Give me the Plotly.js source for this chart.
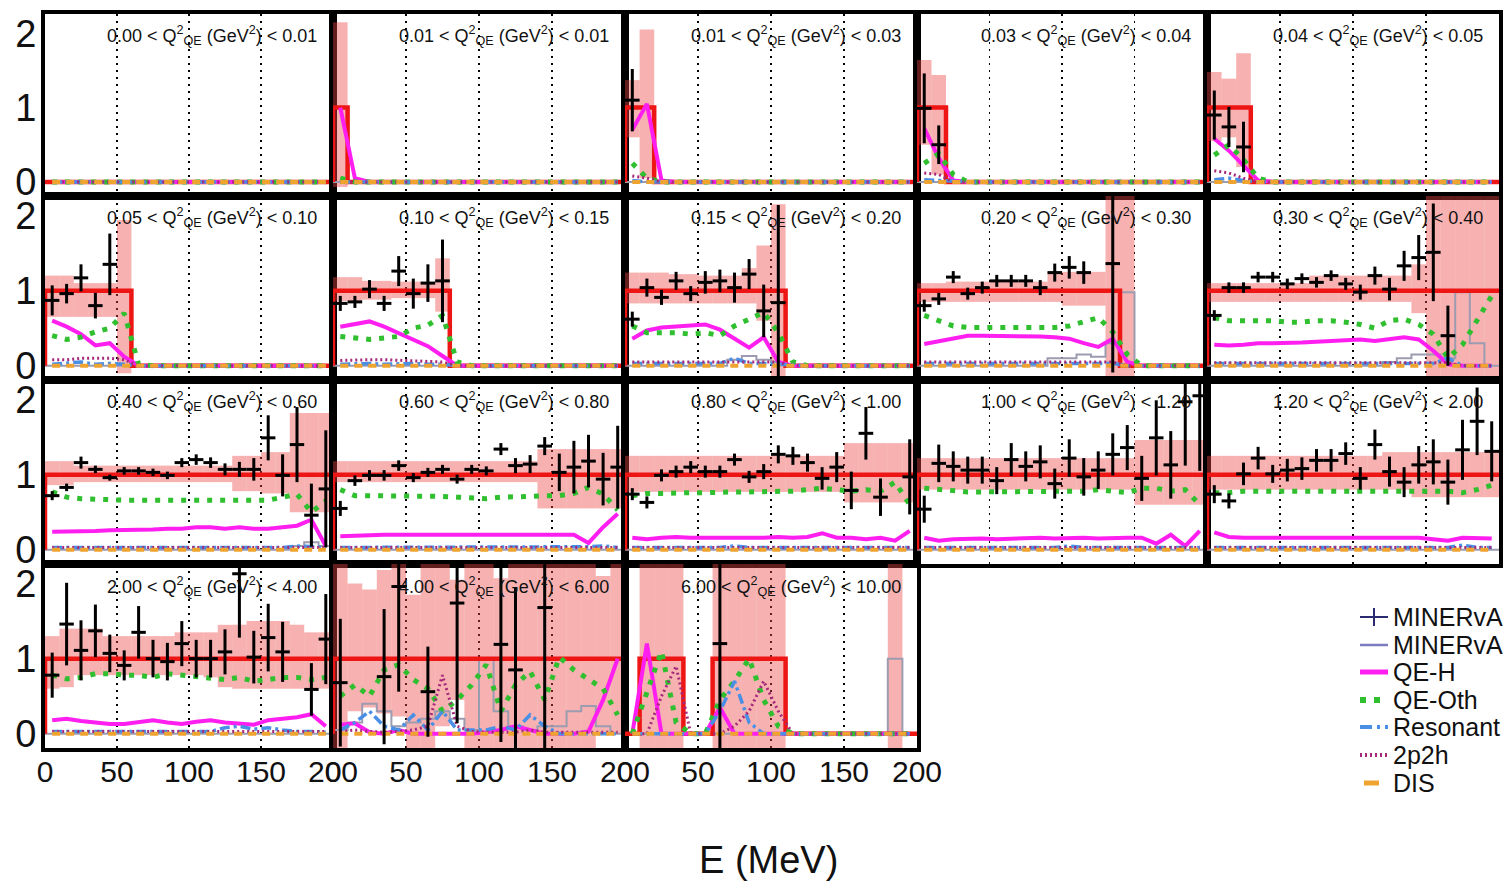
<!DOCTYPE html>
<html><head><meta charset="utf-8">
<script src="https://cdn.plot.ly/plotly-3.0.1.min.js"></script>
<style>html,body{margin:0;padding:0;background:#fff;}#chart{width:1511px;height:883px;}</style>
</head><body><div id="chart"></div>
<script>
const N = null;
const binEdges = [0,10,20,30,40,50,60,70,80,90,100,110,120,130,140,150,160,170,180,190,200];
const binCenters = [5,15,25,35,45,55,65,75,85,95,105,115,125,135,145,155,165,175,185,195];
const qLow  = ["0.00","0.01","0.01","0.03","0.04","0.05","0.10","0.15","0.20","0.30","0.40","0.60","0.80","1.00","1.20","2.00","4.00","6.00"];
const qHigh = ["0.01","0.01","0.03","0.04","0.05","0.10","0.15","0.20","0.30","0.40","0.60","0.80","1.00","1.20","2.00","4.00","6.00","10.00"];
const legendNames = ["MINERvA","MINERvA","QE-H","QE-Oth","Resonant","2p2h","DIS"];
const xTickVals = [0,50,100,150,200];
const yTickVals = [0,1,2];

// total MC ratio (red step)
const ratioMC = [
 [0,0,0,0,0, 0,0,0,0,0, 0,0,0,0,0, 0,0,0,0,0],
 [1,0,0,0,0, 0,0,0,0,0, 0,0,0,0,0, 0,0,0,0,0],
 [1,1,0,0,0, 0,0,0,0,0, 0,0,0,0,0, 0,0,0,0,0],
 [1,1,0,0,0, 0,0,0,0,0, 0,0,0,0,0, 0,0,0,0,0],
 [1,1,1,0,0, 0,0,0,0,0, 0,0,0,0,0, 0,0,0,0,0],
 [1,1,1,1,1, 1,0,0,0,0, 0,0,0,0,0, 0,0,0,0,0],
 [1,1,1,1,1, 1,1,1,0,0, 0,0,0,0,0, 0,0,0,0,0],
 [1,1,1,1,1, 1,1,1,1,1, 1,0,0,0,0, 0,0,0,0,0],
 [1,1,1,1,1, 1,1,1,1,1, 1,1,1,1,0, 0,0,0,0,0],
 [1,1,1,1,1, 1,1,1,1,1, 1,1,1,1,1, 1,1,1,1,1],
 [1,1,1,1,1, 1,1,1,1,1, 1,1,1,1,1, 1,1,1,1,1],
 [1,1,1,1,1, 1,1,1,1,1, 1,1,1,1,1, 1,1,1,1,1],
 [1,1,1,1,1, 1,1,1,1,1, 1,1,1,1,1, 1,1,1,1,1],
 [1,1,1,1,1, 1,1,1,1,1, 1,1,1,1,1, 1,1,1,1,1],
 [1,1,1,1,1, 1,1,1,1,1, 1,1,1,1,1, 1,1,1,1,1],
 [1,1,1,1,1, 1,1,1,1,1, 1,1,1,1,1, 1,1,1,1,1],
 [1,1,1,1,1, 1,1,1,1,1, 1,1,1,1,1, 1,1,1,1,1],
 [0,1,1,1,0, 0,1,1,1,1, 1,0,0,0,0, 0,0,0,0,0]
];

// uncertainty band (pink)
const bandLow = [
 [N,N,N,N,N, N,N,N,N,N, N,N,N,N,N, N,N,N,N,N],
 [-0.07,N,N,N,N, N,N,N,N,N, N,N,N,N,N, N,N,N,N,N],
 [0.6,0.05,N,N,N, N,N,N,N,N, N,N,N,N,N, N,N,N,N,N],
 [0.5,0.1,N,N,N, N,N,N,N,N, N,N,N,N,N, N,N,N,N,N],
 [0.55,0.6,0.2,N,N, N,N,N,N,N, N,N,N,N,N, N,N,N,N,N],
 [0.65,0.65,0.65,0.65,0.65, -0.1,N,N,N,N, N,N,N,N,N, N,N,N,N,N],
 [0.86,0.86,0.88,0.88,0.9, 0.9,0.9,0.72,N,N, N,N,N,N,N, N,N,N,N,N],
 [0.83,0.83,0.83,0.83,0.83, 0.83,0.83,0.83,0.83,0.6, -0.2,N,N,N,N, N,N,N,N,N],
 [0.85,0.85,0.85,0.85,0.85, 0.85,0.85,0.85,0.85,0.85, 0.8,0.8,0.8,-0.2,-0.2, N,N,N,N,N],
 [0.85,0.85,0.85,0.85,0.85, 0.85,0.85,0.85,0.85,0.85, 0.85,0.85,0.85,0.85,0.7, -0.2,-0.2,-0.2,-0.2,-0.2],
 [0.86,0.86,0.9,0.9,0.9, 0.9,0.9,0.9,0.9,0.9, 0.9,0.9,0.9,0.78,0.78, 0.75,0.75,0.5,0.5,0.5],
 [0.9,0.9,0.9,0.9,0.9, 0.9,0.9,0.9,0.9,0.9, 0.9,0.9,0.9,0.9,0.55, 0.55,0.55,0.55,0.55,0.55],
 [0.77,0.77,0.77,0.77,0.77, 0.77,0.77,0.77,0.77,0.77, 0.77,0.77,0.77,0.77,0.77, 0.63,0.63,0.63,0.63,0.63],
 [0.8,0.8,0.8,0.8,0.8, 0.8,0.8,0.8,0.8,0.8, 0.8,0.8,0.8,0.8,0.8, 0.6,0.6,0.6,0.6,0.6],
 [0.8,0.8,0.8,0.8,0.8, 0.8,0.8,0.8,0.8,0.8, 0.8,0.8,0.8,0.8,0.7, 0.7,0.7,0.7,0.7,0.7],
 [0.6,0.62,0.78,0.78,0.78, 0.78,0.78,0.78,0.78,0.78, 0.78,0.75,0.62,0.6,0.6, 0.6,0.6,0.6,0.6,0.6],
 [-0.2,0.3,0.35,0.27,0.23, -0.2,-0.2,0.1,0.45,-0.2, -0.2,-0.2,-0.2,-0.2,-0.2, -0.2,-0.2,-0.2,0,0],
 [N,-0.2,-0.2,-0.2,N, N,-0.2,-0.2,-0.2,-0.2, -0.2,N,N,N,N, N,N,N,-0.2,N]
];
const bandHigh = [
 [N,N,N,N,N, N,N,N,N,N, N,N,N,N,N, N,N,N,N,N],
 [2.15,N,N,N,N, N,N,N,N,N, N,N,N,N,N, N,N,N,N,N],
 [1.37,2.05,N,N,N, N,N,N,N,N, N,N,N,N,N, N,N,N,N,N],
 [1.64,1.44,N,N,N, N,N,N,N,N, N,N,N,N,N, N,N,N,N,N],
 [1.48,1.39,1.73,N,N, N,N,N,N,N, N,N,N,N,N, N,N,N,N,N],
 [1.2,1.2,1.1,1.1,1.1, 1.94,N,N,N,N, N,N,N,N,N, N,N,N,N,N],
 [1.18,1.18,1.13,1.13,1.12, 1.12,1.12,1.43,N,N, N,N,N,N,N, N,N,N,N,N],
 [1.24,1.24,1.24,1.22,1.22, 1.2,1.2,1.2,1.3,1.6, 2.15,N,N,N,N, N,N,N,N,N],
 [1.1,1.1,1.12,1.12,1.12, 1.12,1.12,1.12,1.12,1.25, 1.25,1.25,1.25,2.3,2.3, N,N,N,N,N],
 [1.1,1.1,1.1,1.1,1.1, 1.1,1.1,1.2,1.2,1.2, 1.2,1.2,1.2,1.2,1.35, 2.3,2.3,2.3,2.3,2.3],
 [1.18,1.18,1.12,1.12,1.12, 1.12,1.12,1.12,1.12,1.12, 1.12,1.12,1.12,1.25,1.25, 1.3,1.3,1.82,1.82,1.82],
 [1.18,1.18,1.18,1.18,1.18, 1.18,1.18,1.18,1.18,1.18, 1.18,1.18,1.18,1.18,1.34, 1.34,1.34,1.34,1.34,1.34],
 [1.25,1.25,1.25,1.25,1.25, 1.25,1.25,1.25,1.25,1.25, 1.25,1.25,1.25,1.25,1.25, 1.42,1.42,1.42,1.42,1.42],
 [1.22,1.22,1.22,1.22,1.22, 1.22,1.22,1.22,1.22,1.22, 1.22,1.22,1.22,1.22,1.22, 1.46,1.46,1.46,1.46,1.46],
 [1.25,1.25,1.25,1.25,1.25, 1.25,1.25,1.25,1.25,1.25, 1.25,1.25,1.3,1.3,1.3, 1.3,1.3,1.3,1.3,1.3],
 [1.3,1.4,1.4,1.4,1.3, 1.3,1.3,1.3,1.3,1.35, 1.35,1.35,1.45,1.45,1.5, 1.5,1.5,1.45,1.35,1.35],
 [2.3,2.0,1.92,2.18,2.3, 1.85,2.3,2.3,2.05,2.3, 2.3,2.07,2.3,2.3,2.3, 2.3,2.3,2.3,2.1,2.3],
 [N,2.3,2.3,2.3,N, N,2.3,2.3,2.3,2.3, 2.3,N,N,N,N, N,N,N,2.3,N]
];

// MINERvA data points (ratio) and errors
const dataVal = [
 [N,N,N,N,N, N,N,N,N,N, N,N,N,N,N, N,N,N,N,N],
 [N,N,N,N,N, N,N,N,N,N, N,N,N,N,N, N,N,N,N,N],
 [1.1,N,N,N,N, N,N,N,N,N, N,N,N,N,N, N,N,N,N,N],
 [0.99,0.5,N,N,N, N,N,N,N,N, N,N,N,N,N, N,N,N,N,N],
 [0.9,0.74,0.47,N,N, N,N,N,N,N, N,N,N,N,N, N,N,N,N,N],
 [0.87,0.96,1.17,0.8,1.35, N,N,N,N,N, N,N,N,N,N, N,N,N,N,N],
 [0.83,0.85,1.02,0.83,1.26, 0.96,1.1,1.13,N,N, N,N,N,N,N, N,N,N,N,N],
 [0.62,1.04,0.91,1.13,0.96, 1.11,1.13,1.04,1.22,0.73, 0.84,N,N,N,N, N,N,N,N,N],
 [0.8,0.89,1.18,0.96,1.04, 1.13,1.13,1.13,1.04,1.24, 1.31,1.24,N,1.36,N, N,N,N,N,N],
 [0.67,1.04,1.04,1.18,1.18, 1.09,1.16,1.11,1.2,1.09, 0.98,1.2,1.02,1.33,1.44, 1.51,0.4,N,N,N],
 [0.72,0.83,1.16,1.07,0.96, 1.05,1.05,1.03,0.99,1.16, 1.2,1.16,1.07,1.07,1.07, 1.49,0.99,1.4,0.46,0.81],
 [0.55,0.92,0.99,0.99,1.12, 0.96,1.03,1.07,0.94,1.07, 1.05,1.34,1.12,1.14,1.38, 1.03,1.1,1.18,0.94,1.1],
 [0.74,0.63,0.99,1.04,1.1, 1.04,1.04,1.2,0.97,1.04, 1.27,1.25,1.16,0.95,1.1, 0.79,1.55,0.7,N,0.97],
 [0.54,1.15,1.11,1.06,1.06, 0.92,1.2,1.11,1.17,0.88, 1.22,0.97,1.06,1.27,1.36, 0.95,1.49,1.13,1.97,2.05],
 [0.74,0.65,1.01,1.22,1.01, 1.06,1.08,1.19,1.19,1.28, 0.95,1.4,1.04,0.9,1.13, 1.17,0.9,1.33,1.71,1.31],
 [0.78,1.46,1.11,1.37,1.07, 0.91,1.35,1.0,0.96,1.2, 1.0,1.0,1.09,2.13,1.02, 1.28,1.09,N,0.59,1.26],
 [0.68,N,N,0.76,1.96, N,0.56,N,1.74,N, N,1.19,0.85,N,1.68, N,N,N,N,N],
 [N,N,N,N,N, N,1.2,N,N,N, N,N,N,N,N, N,N,N,N,N]
];
const dataErr = [
 [N,N,N,N,N, N,N,N,N,N, N,N,N,N,N, N,N,N,N,N],
 [N,N,N,N,N, N,N,N,N,N, N,N,N,N,N, N,N,N,N,N],
 [0.42,N,N,N,N, N,N,N,N,N, N,N,N,N,N, N,N,N,N,N],
 [0.47,0.26,N,N,N, N,N,N,N,N, N,N,N,N,N, N,N,N,N,N],
 [0.33,0.27,0.34,N,N, N,N,N,N,N, N,N,N,N,N, N,N,N,N,N],
 [0.2,0.13,0.18,0.17,0.41, N,N,N,N,N, N,N,N,N,N, N,N,N,N,N],
 [0.1,0.08,0.12,0.1,0.2, 0.2,0.25,0.55,N,N, N,N,N,N,N, N,N,N,N,N],
 [0.1,0.12,0.1,0.12,0.1, 0.15,0.15,0.2,0.2,0.35, 1.3,N,N,N,N, N,N,N,N,N],
 [0.08,0.08,0.08,0.08,0.08, 0.08,0.08,0.08,0.1,0.12, 0.15,0.15,N,1.45,N, N,N,N,N,N],
 [0.07,0.07,0.07,0.07,0.07, 0.07,0.07,0.07,0.07,0.08, 0.1,0.12,0.15,0.2,0.3, 0.65,0.4,N,N,N],
 [0.06,0.05,0.08,0.05,0.04, 0.05,0.05,0.05,0.05,0.06, 0.07,0.07,0.08,0.1,0.15, 0.3,0.28,0.5,0.42,0.78],
 [0.1,0.07,0.07,0.07,0.07, 0.06,0.06,0.06,0.06,0.06, 0.06,0.08,0.1,0.12,0.12, 0.25,0.35,0.35,0.35,0.55],
 [0.08,0.08,0.08,0.08,0.08, 0.08,0.08,0.08,0.08,0.1, 0.12,0.12,0.12,0.15,0.2, 0.25,0.35,0.25,N,0.5],
 [0.18,0.25,0.2,0.18,0.18, 0.18,0.22,0.2,0.22,0.2, 0.25,0.25,0.25,0.28,0.3, 0.3,0.5,0.45,0.85,1.0],
 [0.12,0.1,0.15,0.15,0.12, 0.15,0.15,0.15,0.15,0.15, 0.15,0.2,0.2,0.2,0.25, 0.3,0.3,0.4,0.45,0.4],
 [0.3,0.55,0.4,0.35,0.25, 0.2,0.35,0.25,0.25,0.3, 0.25,0.25,0.3,0.85,0.35, 0.45,0.4,N,0.35,0.6],
 [0.85,N,N,0.9,1.4, N,0.6,N,1.6,N, N,1.3,1.1,N,1.9, N,N,N,N,N],
 [N,N,N,N,N, N,2.3,N,N,N, N,N,N,N,N, N,N,N,N,N]
];

// MC components (fraction of total MC)
const qeH = [
 [0,0,0,0,0, 0,0,0,0,0, 0,0,0,0,0, 0,0,0,0,0],
 [1.0,0.05,0,0,0, 0,0,0,0,0, 0,0,0,0,0, 0,0,0,0,0],
 [0.7,1.05,0.02,0,0, 0,0,0,0,0, 0,0,0,0,0, 0,0,0,0,0],
 [0.72,0.32,0.02,0,0, 0,0,0,0,0, 0,0,0,0,0, 0,0,0,0,0],
 [0.58,0.42,0.22,0.02,0, 0,0,0,0,0, 0,0,0,0,0, 0,0,0,0,0],
 [0.6,0.52,0.42,0.27,0.3, 0.12,0,0,0,0, 0,0,0,0,0, 0,0,0,0,0],
 [0.52,0.55,0.59,0.52,0.43, 0.35,0.26,0.13,0,0, 0,0,0,0,0, 0,0,0,0,0],
 [0.36,0.47,0.51,0.52,0.53, 0.55,0.48,0.36,0.24,0.38, 0.05,0,0,0,0, 0,0,0,0,0],
 [0.29,0.33,0.37,0.4,0.4, 0.4,0.4,0.4,0.39,0.38, 0.36,0.3,0.25,0.36,0.05, 0,0,0,0,0],
 [0.28,0.27,0.28,0.3,0.3, 0.3,0.31,0.32,0.33,0.35, 0.35,0.33,0.36,0.38,0.35, 0.2,0.02,0,0,0],
 [0.24,0.24,0.25,0.25,0.26, 0.26,0.27,0.27,0.28,0.28, 0.3,0.3,0.28,0.3,0.28, 0.28,0.3,0.32,0.4,0.05],
 [0.18,0.19,0.2,0.2,0.2, 0.2,0.2,0.2,0.2,0.2, 0.21,0.21,0.2,0.21,0.2, 0.2,0.2,0.09,0.3,0.48],
 [0.16,0.14,0.16,0.17,0.16, 0.16,0.16,0.15,0.16,0.16, 0.17,0.16,0.17,0.22,0.16, 0.16,0.14,0.16,0.12,0.25],
 [0.16,0.12,0.14,0.15,0.15, 0.14,0.15,0.15,0.16,0.15, 0.16,0.16,0.15,0.16,0.16, 0.16,0.08,0.2,0.05,0.25],
 [0.23,0.17,0.16,0.16,0.16, 0.16,0.16,0.16,0.16,0.16, 0.16,0.16,0.16,0.16,0.16, 0.14,0.12,0.16,0.15,0.15],
 [0.18,0.2,0.17,0.15,0.13, 0.13,0.15,0.18,0.15,0.13, 0.16,0.18,0.15,0.13,0.12, 0.18,0.2,0.22,0.26,0.1],
 [0.12,0.14,0.02,0,0.05, 0,0,0,0,0, 0.02,0.05,0.1,0.05,0, 0,0,0.03,0.45,1.0],
 [0,1.2,0,0,0, 0,0.35,0,0,0, 0,0,0,0,0, 0,0,0,0,0]
];
const qeOth = [
 [0,0,0,0,0, 0,0,0,0,0, 0,0,0,0,0, 0,0,0,0,0],
 [0.05,0,0,0,0, 0,0,0,0,0, 0,0,0,0,0, 0,0,0,0,0],
 [0.25,0.05,0,0,0, 0,0,0,0,0, 0,0,0,0,0, 0,0,0,0,0],
 [0.25,0.38,0.1,0,0, 0,0,0,0,0, 0,0,0,0,0, 0,0,0,0,0],
 [0.36,0.5,0.3,0.05,0, 0,0,0,0,0, 0,0,0,0,0, 0,0,0,0,0],
 [0.4,0.35,0.38,0.45,0.5, 0.7,0.02,0,0,0, 0,0,0,0,0, 0,0,0,0,0],
 [0.39,0.37,0.35,0.37,0.39, 0.5,0.54,0.67,0.05,0, 0,0,0,0,0, 0,0,0,0,0],
 [0.53,0.44,0.44,0.44,0.42, 0.44,0.4,0.53,0.62,0.71, 0.44,0.05,0,0,0, 0,0,0,0,0],
 [0.67,0.6,0.53,0.51,0.51, 0.51,0.51,0.51,0.51,0.51, 0.53,0.58,0.64,0.45,0.15, 0,0,0,0,0],
 [0.64,0.6,0.6,0.6,0.6, 0.58,0.58,0.6,0.6,0.58, 0.55,0.5,0.6,0.62,0.55, 0.42,0.1,0.28,0.62,0.93],
 [0.77,0.7,0.68,0.67,0.66, 0.66,0.66,0.66,0.66,0.66, 0.66,0.66,0.65,0.65,0.66, 0.66,0.7,0.74,0.5,0.65],
 [0.8,0.72,0.72,0.72,0.72, 0.71,0.71,0.71,0.7,0.69, 0.68,0.7,0.7,0.71,0.72, 0.72,0.75,0.83,0.74,0.53],
 [0.72,0.75,0.75,0.76,0.76, 0.76,0.77,0.77,0.77,0.77, 0.78,0.78,0.8,0.82,0.8, 0.78,0.8,0.78,0.9,0.6],
 [0.82,0.8,0.78,0.77,0.77, 0.77,0.77,0.77,0.77,0.78, 0.78,0.78,0.8,0.78,0.76, 0.82,0.82,0.78,0.8,0.6],
 [0.76,0.76,0.78,0.78,0.78, 0.78,0.78,0.78,0.78,0.78, 0.78,0.77,0.78,0.78,0.77, 0.77,0.78,0.76,0.8,0.86],
 [0.78,0.73,0.75,0.8,0.8, 0.78,0.78,0.75,0.8,0.78, 0.75,0.73,0.72,0.75,0.7, 0.72,0.75,0.75,0.72,0.75],
 [0.5,0.65,0.5,0.85,0.92, 0.72,0.6,0.3,0.45,0.65, 0.92,0.3,0.65,0.83,0.45, 1.02,0.85,0.72,0.6,0.25],
 [0,0.55,1.1,0.15,0, 0,0.45,0.7,1.0,0.45, 0.1,0,0,0,0, 0,0,0,0,0]
];
const resonant = [
 [0,0,0,0,0, 0,0,0,0,0, 0,0,0,0,0, 0,0,0,0,0],
 [0,0,0,0,0, 0,0,0,0,0, 0,0,0,0,0, 0,0,0,0,0],
 [0.02,0,0,0,0, 0,0,0,0,0, 0,0,0,0,0, 0,0,0,0,0],
 [0.03,0.02,0,0,0, 0,0,0,0,0, 0,0,0,0,0, 0,0,0,0,0],
 [0.03,0.05,0.02,0,0, 0,0,0,0,0, 0,0,0,0,0, 0,0,0,0,0],
 [0.02,0.03,0.05,0.02,0.03, 0.02,0,0,0,0, 0,0,0,0,0, 0,0,0,0,0],
 [0.02,0.03,0.03,0.02,0.03, 0.03,0.02,0.02,0,0, 0,0,0,0,0, 0,0,0,0,0],
 [0.03,0.03,0.03,0.03,0.03, 0.03,0.03,0.1,0.03,0.03, 0.02,0,0,0,0, 0,0,0,0,0],
 [0.03,0.03,0.03,0.03,0.03, 0.03,0.03,0.03,0.03,0.03, 0.03,0.03,0.03,0.03,0, 0,0,0,0,0],
 [0.03,0.03,0.03,0.03,0.03, 0.03,0.03,0.03,0.03,0.03, 0.03,0.03,0.03,0.03,0.03, 0.03,0.1,0,0,0],
 [0.03,0.03,0.03,0.03,0.03, 0.04,0.03,0.03,0.03,0.03, 0.03,0.03,0.03,0.03,0.03, 0.03,0.03,0.05,0.04,0.03],
 [0.03,0.03,0.03,0.03,0.03, 0.03,0.03,0.03,0.03,0.03, 0.03,0.03,0.03,0.03,0.03, 0.03,0.03,0.04,0.05,0.03],
 [0.03,0.03,0.03,0.03,0.03, 0.03,0.03,0.05,0.03,0.03, 0.03,0.03,0.03,0.03,0.03, 0.03,0.03,0.04,0.03,0.03],
 [0.03,0.03,0.03,0.03,0.03, 0.03,0.03,0.03,0.03,0.03, 0.05,0.03,0.03,0.03,0.03, 0.03,0.03,0.03,0.03,0.03],
 [0.03,0.03,0.03,0.03,0.03, 0.03,0.03,0.03,0.03,0.03, 0.03,0.03,0.03,0.03,0.03, 0.03,0.03,0.06,0.03,0.03],
 [0.03,0.03,0.03,0.03,0.03, 0.03,0.03,0.03,0.03,0.03, 0.03,0.03,0.08,0.1,0.06, 0.08,0.05,0.03,0.03,0.02],
 [0.05,0.15,0.3,0.1,0.05, 0.25,0.05,0.3,0.05,0.05, 0.05,0.1,0.05,0.25,0.1, 0,0,0,0,0],
 [0,0,0,0,0, 0,0.3,0.7,0.15,0, 0,0,0,0,0, 0,0,0,0,0]
];
const twoP2h = [
 [0,0,0,0,0, 0,0,0,0,0, 0,0,0,0,0, 0,0,0,0,0],
 [0,0,0,0,0, 0,0,0,0,0, 0,0,0,0,0, 0,0,0,0,0],
 [0.08,0.05,0,0,0, 0,0,0,0,0, 0,0,0,0,0, 0,0,0,0,0],
 [0.12,0.1,0,0,0, 0,0,0,0,0, 0,0,0,0,0, 0,0,0,0,0],
 [0.15,0.12,0.05,0,0, 0,0,0,0,0, 0,0,0,0,0, 0,0,0,0,0],
 [0.08,0.08,0.1,0.1,0.1, 0.08,0,0,0,0, 0,0,0,0,0, 0,0,0,0,0],
 [0.07,0.08,0.08,0.08,0.07, 0.07,0.06,0.05,0,0, 0,0,0,0,0, 0,0,0,0,0],
 [0.05,0.05,0.05,0.05,0.05, 0.05,0.05,0.05,0.05,0.05, 0.05,0,0,0,0, 0,0,0,0,0],
 [0.05,0.05,0.05,0.05,0.05, 0.05,0.05,0.05,0.05,0.05, 0.05,0.05,0.05,0.05,0, 0,0,0,0,0],
 [0.04,0.04,0.04,0.04,0.04, 0.04,0.04,0.04,0.04,0.04, 0.04,0.04,0.04,0.04,0.04, 0.04,0.04,0,0,0],
 [0.03,0.03,0.03,0.03,0.03, 0.03,0.03,0.03,0.03,0.03, 0.03,0.03,0.03,0.03,0.03, 0.03,0.03,0.03,0.03,0.03],
 [0.03,0.03,0.03,0.03,0.03, 0.03,0.03,0.03,0.03,0.03, 0.03,0.03,0.03,0.03,0.03, 0.03,0.03,0.03,0.03,0.03],
 [0.03,0.03,0.03,0.03,0.03, 0.03,0.03,0.03,0.03,0.03, 0.03,0.03,0.03,0.03,0.03, 0.03,0.03,0.03,0.03,0.03],
 [0.03,0.03,0.03,0.03,0.03, 0.03,0.03,0.03,0.03,0.03, 0.03,0.03,0.03,0.03,0.03, 0.03,0.03,0.03,0.03,0.03],
 [0.03,0.03,0.03,0.03,0.03, 0.03,0.03,0.03,0.03,0.03, 0.03,0.03,0.03,0.03,0.03, 0.03,0.03,0.03,0.03,0.03],
 [0.03,0.03,0.03,0.03,0.03, 0.03,0.03,0.03,0.03,0.03, 0.03,0.03,0.03,0.03,0.03, 0.03,0.03,0.03,0.03,0.03],
 [0.03,0.05,0.03,0.02,0.03, 0.05,0.1,0.78,0.1,0.03, 0.02,0.02,0.02,0.05,0.02, 0.02,0.02,0.02,0.02,0.02],
 [0,0,0.5,0.9,0, 0,0,0.1,0.3,0.7, 0.3,0,0,0,0, 0,0,0,0,0]
];
const dis = [
 [0,0,0,0,0, 0,0,0,0,0, 0,0,0,0,0, 0,0,0,0,0],
 [0,0,0,0,0, 0,0,0,0,0, 0,0,0,0,0, 0,0,0,0,0],
 [0,0,0,0,0, 0,0,0,0,0, 0,0,0,0,0, 0,0,0,0,0],
 [0,0,0,0,0, 0,0,0,0,0, 0,0,0,0,0, 0,0,0,0,0],
 [0,0,0,0,0, 0,0,0,0,0, 0,0,0,0,0, 0,0,0,0,0],
 [0,0,0,0,0, 0,0,0,0,0, 0,0,0,0,0, 0,0,0,0,0],
 [0,0,0,0,0, 0,0,0,0,0, 0,0,0,0,0, 0,0,0,0,0],
 [0,0,0,0,0, 0,0,0,0,0, 0,0,0,0,0, 0,0,0,0,0],
 [0,0,0,0,0, 0,0,0,0,0, 0,0,0,0,0, 0,0,0,0,0],
 [0,0,0,0,0, 0,0,0,0,0, 0,0,0,0,0, 0,0,0,0,0],
 [0,0,0,0,0, 0,0,0,0,0, 0,0,0,0,0, 0,0,0,0,0],
 [0,0,0,0,0, 0,0,0,0,0, 0,0,0,0,0, 0,0,0,0,0],
 [0,0,0,0,0, 0,0,0,0,0, 0,0,0,0,0, 0,0,0,0,0],
 [0,0,0,0,0, 0,0,0,0,0, 0,0,0,0,0, 0,0,0,0,0],
 [0,0,0,0,0, 0,0,0,0,0, 0,0,0,0,0, 0,0,0,0,0],
 [0,0,0,0,0, 0,0,0,0,0, 0,0,0,0,0, 0,0,0,0,0],
 [0,0,0,0,0, 0,0,0,0,0, 0,0,0,0,0, 0,0,0,0,0],
 [0,0,0,0,0, 0,0,0,0,0, 0,0,0,0,0, 0,0,0,0,0]
];
// MINERvA MC histogram (grey step)
const mcHist = [
 [0,0,0,0,0, 0,0,0,0,0, 0,0,0,0,0, 0,0,0,0,0],
 [0,0,0,0,0, 0,0,0,0,0, 0,0,0,0,0, 0,0,0,0,0],
 [0,0,0,0,0, 0,0,0,0,0, 0,0,0,0,0, 0,0,0,0,0],
 [0,0,0,0,0, 0,0,0,0,0, 0,0,0,0,0, 0,0,0,0,0],
 [0,0,0,0,0, 0,0,0,0,0, 0,0,0,0,0, 0,0,0,0,0],
 [0,0,0,0,0, 0,0,0,0,0, 0,0,0,0,0, 0,0,0,0,0],
 [0,0,0,0,0, 0,0,0,0,0, 0,0,0,0,0, 0,0,0,0,0],
 [0,0,0,0,0, 0,0,0.08,0.13,0.08, 0.05,0,0,0,0, 0,0,0,0,0],
 [0,0,0,0,0, 0,0,0,0,0.1, 0.1,0.15,0.12,0.3,0.98, 0,0,0,0,0],
 [0,0,0,0,0, 0,0,0,0,0, 0,0,0.05,0.1,0.15, 0.15,0.1,0.98,0.3,0],
 [0,0,0,0,0, 0,0,0,0,0, 0,0,0,0,0, 0,0,0.05,0.1,0.05],
 [0,0,0,0,0, 0,0,0,0,0, 0,0,0,0,0, 0,0,0,0,0],
 [0,0,0,0,0, 0,0,0,0,0, 0,0,0,0,0, 0,0,0,0,0],
 [0,0,0,0,0, 0,0,0,0,0, 0,0,0,0,0, 0,0,0,0,0],
 [0,0,0,0,0, 0,0,0,0,0, 0,0,0,0,0, 0,0,0,0,0],
 [0,0,0,0,0, 0,0,0,0,0, 0,0,0,0,0, 0,0,0,0,0],
 [0.05,0.15,0.4,0.3,0.1, 0.15,0.2,0.3,0.2,0.05, 1.0,0.3,0.1,0.05,0.1, 0.1,0.3,0.37,0.1,0],
 [0,0,0,0,0, 0,0,0,0,0, 0,0,0,0,0, 0,0,0,1.0,0]
];

// ---------- layout geometry ----------
const W = 1511, H = 883;
const colEdges = [45, 333, 625, 917, 1207, 1499];
const rowEdges = [14, 196, 380, 564, 748];
const px = v => v / W, py = v => 1 - v / H;

const colors = {
  band: 'rgba(235,70,70,0.42)', red: '#ee1515', qeH: '#ff1ef0', qeOth: '#2fbf2f',
  res: '#4a8fe6', p2h: '#a5287a', dis: '#f0a430', hist: '#9c9cb0', data: '#000000',
  legData: '#2b2b72', legHist: '#7b7bbd'
};

const traces = [];
const layout = {
  width: W, height: H, margin: {l:0, r:0, t:0, b:0},
  paper_bgcolor: '#fff', plot_bgcolor: '#fff', showlegend: false, barmode: 'overlay',
  font: {family: 'Liberation Sans, Arial, sans-serif', color: '#111'},
  annotations: [], shapes: []
};

for (let i = 0; i < 18; i++) {
  const r = Math.floor(i / 5), c = i % 5;
  const sfx = i === 0 ? '' : String(i + 1);
  const xa = 'x' + sfx, ya = 'y' + sfx;
  layout['xaxis' + sfx] = {
    domain: [px(colEdges[c]), px(colEdges[c + 1])], range: [0, 200], anchor: ya,
    showline: true, mirror: true, linewidth: 4, linecolor: '#000',
    showgrid: true, gridcolor: '#000', gridwidth: 1.3, griddash: '2px,5px',
    zeroline: false, ticks: '', tickvals: xTickVals, showticklabels: r === 3,
    tickfont: {size: 30, color: '#111'}, ticklabelstandoff: -6
  };
  layout['yaxis' + sfx] = {
    domain: [py(rowEdges[r + 1]), py(rowEdges[r])], range: [-0.19, 2.26], anchor: xa,
    showline: true, mirror: true, linewidth: 4, linecolor: '#000',
    showgrid: false, zeroline: false, ticks: '', tickvals: yTickVals, showticklabels: c === 0,
    tickfont: {size: 38, color: '#111'}, ticklabelstandoff: -3
  };

  const bandSize = bandHigh[i].map((h, k) => (h === null || bandLow[i][k] === null) ? null : h - bandLow[i][k]);
  traces.push({type: 'bar', x: binCenters, y: bandSize, base: bandLow[i], width: 10,
    marker: {color: colors.band, line: {width: 0}}, xaxis: xa, yaxis: ya, hoverinfo: 'skip'});

  const stepX = [binEdges[0]].concat(binEdges);
  traces.push({type: 'scatter', mode: 'lines', x: stepX, y: [0].concat(mcHist[i], [mcHist[i][19]]),
    line: {color: colors.hist, width: 2, shape: 'hv'}, xaxis: xa, yaxis: ya, hoverinfo: 'skip'});
  traces.push({type: 'scatter', mode: 'lines', x: stepX, y: [0].concat(ratioMC[i], [ratioMC[i][19]]),
    line: {color: colors.red, width: 4.5, shape: 'hv'}, xaxis: xa, yaxis: ya, hoverinfo: 'skip'});
  traces.push({type: 'scatter', mode: 'lines', x: binCenters, y: qeH[i],
    line: {color: colors.qeH, width: 4}, xaxis: xa, yaxis: ya});
  traces.push({type: 'scatter', mode: 'lines', x: binCenters, y: qeOth[i],
    line: {color: colors.qeOth, width: 5, dash: '5px,8px'}, xaxis: xa, yaxis: ya});
  traces.push({type: 'scatter', mode: 'lines', x: binCenters, y: resonant[i],
    line: {color: colors.res, width: 3.5, dash: '10px,4px,3px,4px'}, xaxis: xa, yaxis: ya});
  traces.push({type: 'scatter', mode: 'lines', x: binCenters, y: twoP2h[i],
    line: {color: colors.p2h, width: 3, dash: '2px,3px'}, xaxis: xa, yaxis: ya});
  traces.push({type: 'scatter', mode: 'lines', x: binCenters, y: dis[i],
    line: {color: colors.dis, width: 4, dash: '8px,6px'}, xaxis: xa, yaxis: ya});
  traces.push({type: 'scatter', mode: 'markers', x: binCenters, y: dataVal[i],
    marker: {size: 1, color: colors.data},
    error_y: {type: 'data', array: dataErr[i], visible: true, color: colors.data, thickness: 3, width: 0},
    error_x: {type: 'constant', value: 5, visible: true, color: colors.data, thickness: 3, width: 0},
    xaxis: xa, yaxis: ya});

  layout.annotations.push({
    xref: 'paper', yref: 'paper', x: px(colEdges[c + 1] - 14), y: py(rowEdges[r] + 22),
    xanchor: 'right', yanchor: 'middle', showarrow: false,
    text: qLow[i] + ' &lt; Q<sup>2</sup><sub>QE</sub> (GeV<sup>2</sup>) &lt; ' + qHigh[i],
    font: {size: 18, color: '#111'}
  });
}

// axis title
layout.annotations.push({xref: 'paper', yref: 'paper', x: px(768), y: py(860), xanchor: 'center', yanchor: 'middle',
  showarrow: false, text: 'E (MeV)', font: {size: 38, color: '#111'}});

// manual legend (tight spacing as in reference)
const legRows = [617, 645, 672, 700, 727, 755, 783];
const legStyles = [
  {color: colors.legData, width: 2, dash: 'solid'},
  {color: colors.legHist, width: 2.5, dash: 'solid'},
  {color: colors.qeH, width: 5, dash: 'solid'},
  {color: colors.qeOth, width: 6, dash: '6px,8px'},
  {color: colors.res, width: 4, dash: '12px,5px,3px,5px'},
  {color: colors.p2h, width: 4, dash: '2px,3px'},
  {color: colors.dis, width: 5, dash: 'solid'}
];
legendNames.forEach((nm, k) => {
  const yy = legRows[k];
  const x0 = k === 6 ? 1364 : 1360, x1 = k === 6 ? 1379 : 1388;
  layout.shapes.push({type: 'line', xref: 'paper', yref: 'paper', x0: px(x0), x1: px(x1), y0: py(yy), y1: py(yy), line: legStyles[k]});
  if (k === 0) {
    layout.shapes.push({type: 'line', xref: 'paper', yref: 'paper', x0: px(1374), x1: px(1374), y0: py(yy - 9), y1: py(yy + 9), line: legStyles[0]});
  }
  layout.annotations.push({xref: 'paper', yref: 'paper', x: px(1391), y: py(yy), xanchor: 'left', yanchor: 'middle',
    showarrow: false, text: nm, font: {size: 25, color: '#111'}});
});

Plotly.newPlot('chart', traces, layout, {staticPlot: true, displayModeBar: false});
</script>
</body></html>
